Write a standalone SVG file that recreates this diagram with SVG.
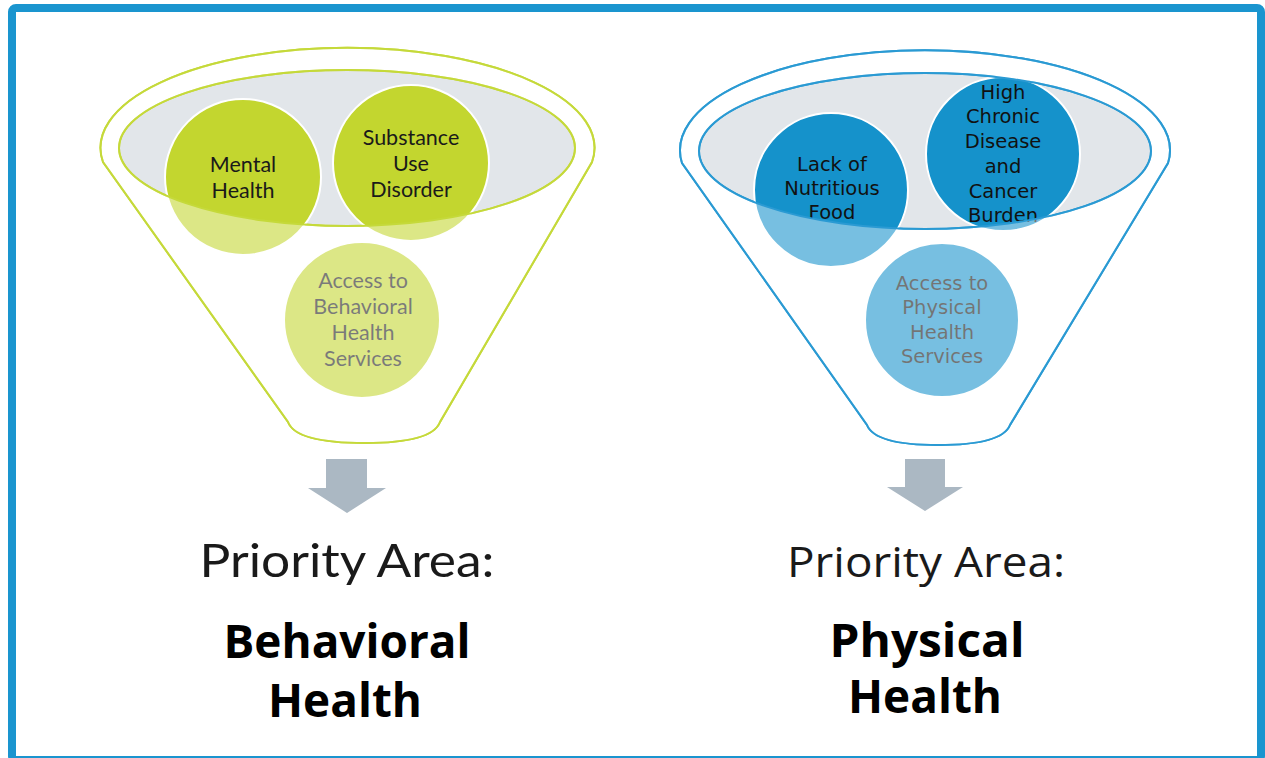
<svg xmlns="http://www.w3.org/2000/svg" width="1265" height="758" viewBox="0 0 1265 758">
<style>
.frame{fill:#ffffff;stroke:#1A95CF;stroke-width:8}
.gin{fill:#E2E6EA;stroke:#C5D93A;stroke-width:2}
.gout{fill:none;stroke:#C5D93A;stroke-width:2}
.bin{fill:#E2E6EA;stroke:#2A9AD3;stroke-width:2}
.bout{fill:none;stroke:#2A9AD3;stroke-width:2}
.gc{fill:#C3D62F;stroke:#ffffff;stroke-width:2}
.bc{fill:#1592CB;stroke:#ffffff;stroke-width:2}
.veil{fill:#ffffff;fill-opacity:0.42;fill-rule:evenodd}
.lt{font-family:Lato,"Open Sans",sans-serif;font-size:21.5px;fill:#1a1a1a;text-anchor:middle}
.rt{font-family:"DejaVu Sans","Liberation Sans",sans-serif;font-size:19.5px;fill:#111111;text-anchor:middle}
.arrow{fill:#ABB8C3}
.pal{font-family:Lato,"Open Sans",sans-serif;font-weight:400;font-size:46px;fill:#1a1a1a;text-anchor:middle}
.par{font-family:"Open Sans","Noto Sans",sans-serif;font-weight:400;font-size:42px;fill:#1a1a1a;text-anchor:middle}
.ph{font-family:"Open Sans","Noto Sans",sans-serif;font-weight:700;font-size:46px;fill:#000000;text-anchor:middle}
</style>
<rect class="frame" x="12" y="8" width="1249" height="752" rx="4"/>
<g id="funnel-behavioral">
<path class="gout" d="M103,162 A247,100 0 1 1 592,162 L440,422 Q432,443 365,443 Q296,443 288,422 Z"/>
<ellipse class="gin" cx="347" cy="148" rx="228" ry="78"/>
</g>
<g id="node-mental-health">
<circle class="gc" cx="243" cy="177" r="78"/>
<text class="lt" x="243" y="172">Mental</text>
<text class="lt" x="243" y="198">Health</text>
</g>
<g id="node-substance-use">
<circle class="gc" cx="411" cy="163" r="78"/>
<text class="lt" x="411" y="145">Substance</text>
<text class="lt" x="411" y="171">Use</text>
<text class="lt" x="411" y="197">Disorder</text>
</g>
<g id="node-access-behavioral">
<circle class="gc" cx="362" cy="320" r="78"/>
<text class="lt" x="363" y="288">Access to</text>
<text class="lt" x="363" y="314">Behavioral</text>
<text class="lt" x="363" y="340">Health</text>
<text class="lt" x="363" y="366">Services</text>
</g>
<g id="veil-behavioral">
<path class="veil" d="M103,162 A247,100 0 1 1 592,162 L440,422 Q432,443 365,443 Q296,443 288,422 Z M119,148 A228,78 0 1 0 575,148 A228,78 0 1 0 119,148 Z"/>
<path class="gout" d="M103,162 A247,100 0 1 1 592,162 L440,422 Q432,443 365,443 Q296,443 288,422 Z"/>
<ellipse class="gout" cx="347" cy="148" rx="228" ry="78"/>
</g>
<g id="funnel-physical">
<path class="bout" d="M682,163 A245,100 0 1 1 1168,163 L1010,425 Q1002,445 938,445 Q875,445 867,425 Z"/>
<ellipse class="bin" cx="925" cy="151" rx="226" ry="78"/>
</g>
<g id="node-nutritious-food">
<circle class="bc" cx="831" cy="190" r="77"/>
<text class="rt" x="832" y="171">Lack of</text>
<text class="rt" x="832" y="195">Nutritious</text>
<text class="rt" x="832" y="219">Food</text>
</g>
<g id="node-chronic-disease">
<circle class="bc" cx="1003" cy="154" r="77"/>
<text class="rt" x="1003" y="99">High</text>
<text class="rt" x="1003" y="123">Chronic</text>
<text class="rt" x="1003" y="148">Disease</text>
<text class="rt" x="1003" y="173">and</text>
<text class="rt" x="1003" y="198">Cancer</text>
<text class="rt" x="1003" y="222">Burden</text>
</g>
<g id="node-access-physical">
<circle class="bc" cx="942" cy="320" r="77"/>
<text class="rt" x="942" y="290">Access to</text>
<text class="rt" x="942" y="314">Physical</text>
<text class="rt" x="942" y="339">Health</text>
<text class="rt" x="942" y="363">Services</text>
</g>
<g id="veil-physical">
<path class="veil" d="M682,163 A245,100 0 1 1 1168,163 L1010,425 Q1002,445 938,445 Q875,445 867,425 Z M699,151 A226,78 0 1 0 1151,151 A226,78 0 1 0 699,151 Z"/>
<path class="bout" d="M682,163 A245,100 0 1 1 1168,163 L1010,425 Q1002,445 938,445 Q875,445 867,425 Z"/>
<ellipse class="bout" cx="925" cy="151" rx="226" ry="78"/>
</g>
<g id="connectors">
<polygon class="arrow" points="326,459 367,459 367,488 386,488 347,513 308,488 326,488"/>
<polygon class="arrow" points="905,459 945,459 945,487 963,487 925,511 887,487 905,487"/>
</g>
<g id="label-behavioral">
<text class="pal" x="347" y="577" textLength="295" lengthAdjust="spacingAndGlyphs">Priority Area:</text>
<text class="ph" x="347" y="658" textLength="247" lengthAdjust="spacingAndGlyphs">Behavioral</text>
<text class="ph" x="345" y="717" textLength="154" lengthAdjust="spacingAndGlyphs">Health</text>
</g>
<g id="label-physical">
<text class="par" x="926" y="577" textLength="278" lengthAdjust="spacingAndGlyphs">Priority Area:</text>
<text class="ph" x="927" y="657" textLength="195" lengthAdjust="spacingAndGlyphs">Physical</text>
<text class="ph" x="925" y="713" textLength="154" lengthAdjust="spacingAndGlyphs">Health</text>
</g>
</svg>
